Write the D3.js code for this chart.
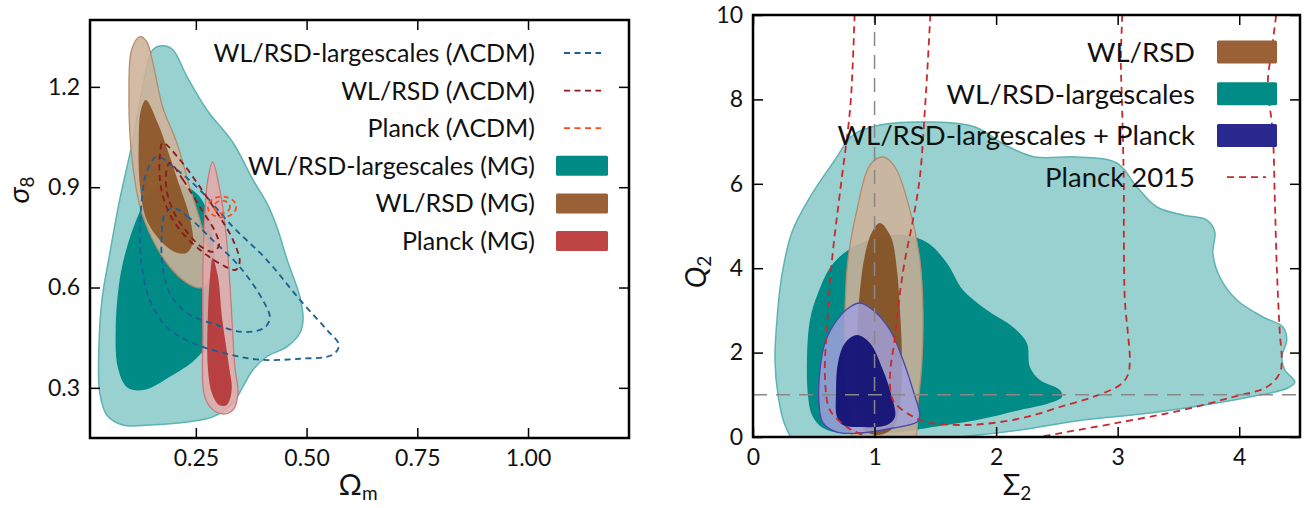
<!DOCTYPE html>
<html><head><meta charset="utf-8">
<script src="https://cdn.jsdelivr.net/npm/d3@7"></script>
<style>
body{margin:0;background:#fff}
svg{display:block}
text{font-family:Lato,"DejaVu Sans",sans-serif;fill:#111}
</style></head>
<body><svg id="c" width="1311" height="508"></svg>
<script>
// ---------------- DATA ----------------
// Left panel (Omega_m, sigma_8) contours
const leftTealOuter=[[0.153,1.311],[0.175,1.323],[0.198,1.311],[0.230,1.230],[0.275,1.131],[0.334,1.033],[0.379,0.922],[0.410,0.853],[0.433,0.781],[0.456,0.683],[0.485,0.572],[0.492,0.503],[0.485,0.464],[0.456,0.423],[0.410,0.393],[0.379,0.354],[0.356,0.303],[0.334,0.255],[0.288,0.213],[0.230,0.198],[0.146,0.189],[0.085,0.189],[0.049,0.219],[0.033,0.285],[0.031,0.414],[0.038,0.563],[0.056,0.704],[0.078,0.862],[0.108,1.042],[0.130,1.200]];
const leftTealInner=[[0.123,0.826],[0.146,0.886],[0.191,0.913],[0.248,0.886],[0.277,0.826],[0.291,0.713],[0.293,0.563],[0.282,0.443],[0.248,0.384],[0.191,0.333],[0.135,0.294],[0.096,0.300],[0.074,0.360],[0.069,0.473],[0.078,0.623],[0.096,0.728]];
const leftBrownOuter=[[0.124,1.350],[0.105,1.311],[0.099,1.161],[0.101,1.062],[0.108,0.961],[0.124,0.841],[0.153,0.742],[0.191,0.662],[0.230,0.614],[0.259,0.599],[0.277,0.614],[0.282,0.662],[0.275,0.722],[0.259,0.802],[0.236,0.901],[0.207,1.033],[0.175,1.140],[0.153,1.272],[0.139,1.335]];
const leftBrownInner=[[0.137,1.161],[0.164,1.092],[0.186,1.012],[0.214,0.901],[0.236,0.811],[0.243,0.733],[0.230,0.704],[0.207,0.704],[0.175,0.733],[0.139,0.802],[0.124,0.901],[0.121,1.042],[0.126,1.131]];
const leftPlanckOuter=[[0.288,0.976],[0.302,0.907],[0.318,0.763],[0.329,0.563],[0.338,0.363],[0.345,0.285],[0.334,0.234],[0.309,0.222],[0.282,0.243],[0.268,0.285],[0.266,0.464],[0.266,0.662],[0.270,0.811],[0.277,0.922]];
const leftPlanckInner=[[0.288,0.689],[0.300,0.632],[0.309,0.512],[0.325,0.363],[0.331,0.294],[0.320,0.249],[0.302,0.249],[0.286,0.285],[0.277,0.363],[0.277,0.512],[0.282,0.632]];
const lcdmLargeOuter=[[0.162,0.991],[0.207,0.952],[0.259,0.892],[0.334,0.781],[0.410,0.683],[0.485,0.563],[0.546,0.473],[0.573,0.428],[0.559,0.399],[0.485,0.387],[0.395,0.384],[0.320,0.402],[0.243,0.434],[0.184,0.482],[0.146,0.563],[0.128,0.662],[0.124,0.763],[0.128,0.862],[0.139,0.946]];
const lcdmLargeInner=[[0.198,0.838],[0.230,0.814],[0.288,0.742],[0.349,0.662],[0.401,0.563],[0.417,0.509],[0.404,0.479],[0.356,0.467],[0.297,0.488],[0.230,0.524],[0.191,0.584],[0.175,0.662],[0.173,0.763],[0.180,0.820]];
const lcdmWLOuter=[[0.175,1.033],[0.214,0.982],[0.259,0.901],[0.304,0.811],[0.334,0.742],[0.349,0.677],[0.340,0.653],[0.309,0.668],[0.259,0.713],[0.214,0.772],[0.182,0.847],[0.169,0.922],[0.169,0.997]];
const lcdmWLInner=[[0.191,0.973],[0.221,0.922],[0.259,0.841],[0.295,0.763],[0.302,0.725],[0.288,0.707],[0.259,0.725],[0.230,0.766],[0.200,0.826],[0.184,0.892],[0.184,0.952]];
const planckLcdmCenter=[0.309,0.841];
const planckLcdmRadii=[[0.032,0.031],[0.018,0.019]];

// Right panel (Sigma_2, Q_2) contours
const rightTealOuter=[[0.362,-0.12],[0.263,0.284],[0.206,0.995],[0.181,1.825],[0.197,2.773],[0.238,3.839],[0.321,4.858],[0.469,5.687],[0.674,6.564],[0.822,7.156],[1.044,7.393],[1.456,7.464],[1.826,7.346],[2.072,6.919],[2.319,6.635],[2.664,6.635],[2.993,6.493],[3.158,5.924],[3.322,5.450],[3.536,5.261],[3.734,5.142],[3.799,4.858],[3.783,4.360],[3.840,3.791],[3.980,3.246],[4.194,2.844],[4.359,2.607],[4.391,2.299],[4.350,1.896],[4.375,1.588],[4.457,1.303],[4.400,1.161],[4.087,0.948],[3.816,0.806],[3.265,0.569],[2.714,0.403],[2.196,0.166],[1.702,0.0],[1.209,-0.118]];
const rightTealInner=[[0.452,0.995],[0.444,1.825],[0.469,2.773],[0.535,3.412],[0.650,4.076],[0.822,4.502],[1.044,4.739],[1.250,4.787],[1.439,4.597],[1.595,4.123],[1.727,3.483],[1.924,3.009],[2.138,2.607],[2.253,2.227],[2.278,1.659],[2.360,1.351],[2.525,1.114],[2.541,0.948],[2.442,0.806],[2.196,0.640],[1.842,0.403],[1.480,0.237],[1.209,0.118],[0.798,0.071],[0.576,0.213],[0.485,0.521]];
const rightBrownOuter=[[1.069,6.635],[0.962,6.445],[0.855,5.379],[0.781,4.194],[0.757,3.009],[0.757,1.422],[0.798,0.474],[0.839,-0.118],[1.308,-0.118],[1.357,0.806],[1.390,1.825],[1.398,3.009],[1.373,4.194],[1.291,5.379],[1.168,6.398]];
const rightBrownInner=[[1.044,5.071],[1.135,4.739],[1.184,3.957],[1.209,3.009],[1.225,1.825],[1.209,0.758],[1.151,0.213],[1.028,0.047],[0.896,0.213],[0.855,0.877],[0.855,2.299],[0.880,3.483],[0.921,4.313],[0.979,4.858]];
const rightBlueOuter=[[0.880,3.175],[0.987,3.009],[1.127,2.536],[1.234,1.825],[1.316,1.114],[1.373,0.498],[1.349,0.355],[1.151,0.213],[0.880,0.095],[0.691,0.118],[0.576,0.332],[0.543,0.806],[0.551,1.588],[0.592,2.227],[0.691,2.773],[0.798,3.081]];
const rightBlueInner=[[0.855,2.417],[0.962,2.227],[1.069,1.588],[1.143,0.948],[1.168,0.474],[1.102,0.284],[0.880,0.237],[0.740,0.284],[0.691,0.474],[0.683,1.043],[0.699,1.754],[0.757,2.227]];
const planck2015Inner=[[1.464,10.3],[1.439,8.934],[1.414,7.749],[1.373,6.161],[1.316,5.142],[1.250,4.194],[1.209,3.412],[1.168,2.370],[1.127,1.422],[1.151,0.877],[1.266,0.569],[1.431,0.355],[1.702,0.284],[1.974,0.332],[2.253,0.474],[2.525,0.711],[2.796,0.948],[3.018,1.232],[3.084,1.469],[3.100,1.825],[3.084,2.464],[3.059,3.246],[3.051,4.834],[3.051,5.924],[3.035,7.986],[3.026,8.934],[3.043,10.3]];
const planck2015Outer=[[0.839,10.3],[0.822,8.934],[0.798,7.749],[0.715,5.782],[0.650,4.194],[0.609,2.607],[0.592,1.422],[0.633,0.640],[0.773,0.237],[0.905,0.047],[1.127,-0.19],[1.620,-0.30],[2.030,-0.24],[2.360,0.0],[2.442,0.047],[2.993,0.332],[3.536,0.640],[3.947,0.948],[4.227,1.185],[4.334,1.517],[4.350,1.825],[4.334,2.464],[4.309,4.028],[4.293,5.616],[4.276,7.204],[4.235,8.389],[4.268,9.171],[4.317,10.3]];
const refSigma=[1];
const refQ=[1];

// Ticks
const leftXTicks=[0.25,0.50,0.75,1.00];
const leftXTickLabels=["0.25","0.50","0.75","1.00"];
const leftYTicks=[0.3,0.6,0.9,1.2];
const leftYTickLabels=["0.3","0.6","0.9","1.2"];
const rightXTicks=[0,1,2,3,4];
const rightYTicks=[0,2,4,6,8,10];

// Legends
const leftLegendLabels=["WL/RSD-largescales (ΛCDM)","WL/RSD (ΛCDM)","Planck (ΛCDM)","WL/RSD-largescales (MG)","WL/RSD (MG)","Planck (MG)"];
const leftLegendKinds=["line","line","line","box","box","box"];
const leftLegendColors=["#1b5f93","#8b1a1a","#ff4a1a","#008b87","#9a6137","#bf4545"];
const rightLegendLabels=["WL/RSD","WL/RSD-largescales","WL/RSD-largescales + Planck","Planck 2015"];
const rightLegendKinds=["box","box","box","line"];
const rightLegendColors=["#9a6137","#008b87","#29298f","#c62a2f"];

// ---------------- DRAW ----------------
const FONT='Lato,"DejaVu Sans",sans-serif';
const svg=d3.select("#c");
const xL=d3.scaleLinear().domain([0.011,1.228]).range([90,629]);
const yL=d3.scaleLinear().domain([0.15,1.40]).range([438,20]);
const xR=d3.scaleLinear().domain([0,4.5]).range([753,1300]);
const yR=d3.scaleLinear().domain([0,10]).range([437,15]);

const defs=svg.append("defs");
defs.append("clipPath").attr("id","clipL").append("rect")
  .attr("x",xL.range()[0]).attr("y",yL.range()[1]).attr("width",xL.range()[1]-xL.range()[0]).attr("height",yL.range()[0]-yL.range()[1]);
defs.append("clipPath").attr("id","clipR").append("rect")
  .attr("x",xR.range()[0]).attr("y",yR.range()[1]).attr("width",xR.range()[1]-xR.range()[0]).attr("height",yR.range()[0]-yR.range()[1]);

const closedLine=(x,y)=>d3.line().x(d=>x(d[0])).y(d=>y(d[1])).curve(d3.curveCatmullRomClosed.alpha(0.5));
const openLine=(x,y)=>d3.line().x(d=>x(d[0])).y(d=>y(d[1])).curve(d3.curveCatmullRom.alpha(0.5));

function fillPath(g,line,data,fill,op,stroke,sw){
  g.append("path").attr("d",line(data)).attr("fill",fill).attr("fill-opacity",op)
   .attr("stroke",stroke||"none").attr("stroke-width",sw||0);
}
function dashPath(g,line,data,color,dash,sw){
  g.append("path").attr("d",line(data)).attr("fill","none").attr("stroke",color)
   .attr("stroke-width",sw||1.8).attr("stroke-dasharray",dash);
}

// ---- Left panel ----
const gL=svg.append("g").attr("clip-path","url(#clipL)");
const cL=closedLine(xL,yL);
fillPath(gL,cL,leftTealOuter,"#99d1d0",1,"#5db3b2",1.5);
fillPath(gL,cL,leftTealInner,"#008b87",1);
fillPath(gL,cL,leftBrownOuter,"rgb(206,178,154)",0.88,"#b48c6c",1.3);
fillPath(gL,cL,leftBrownInner,"rgb(137,80,32)",0.88);
fillPath(gL,cL,leftPlanckOuter,"rgb(226,170,170)",0.88,"#c97a7a",1.3);
fillPath(gL,cL,leftPlanckInner,"rgb(180,52,52)",0.9);
dashPath(gL,cL,lcdmLargeOuter,"#1b5f93","6,4.5");
dashPath(gL,cL,lcdmLargeInner,"#1b5f93","6,4.5");
dashPath(gL,cL,lcdmWLOuter,"#8b1a1a","6,4.5");
dashPath(gL,cL,lcdmWLInner,"#8b1a1a","6,4.5");
planckLcdmRadii.forEach(r=>{
  gL.append("ellipse").attr("cx",xL(planckLcdmCenter[0])).attr("cy",yL(planckLcdmCenter[1]))
    .attr("rx",xL(planckLcdmCenter[0]+r[0])-xL(planckLcdmCenter[0]))
    .attr("ry",yL(planckLcdmCenter[1])-yL(planckLcdmCenter[1]+r[1]))
    .attr("fill","none").attr("stroke","#ff4a1a").attr("stroke-width",1.8).attr("stroke-dasharray","5,3.5");
});

// ---- Right panel ----
const gR=svg.append("g").attr("clip-path","url(#clipR)");
const cR=closedLine(xR,yR), oR=openLine(xR,yR);
fillPath(gR,cR,rightTealOuter,"#99d1d0",1,"#5db3b2",1.5);
fillPath(gR,cR,rightTealInner,"#008b87",1);
fillPath(gR,cR,rightBrownOuter,"rgb(206,178,154)",0.88,"#b48c6c",1.3);
fillPath(gR,cR,rightBrownInner,"rgb(130,78,32)",0.9);
fillPath(gR,cR,rightBlueOuter,"rgb(160,160,218)",0.85,"#4848a8",1.3);
fillPath(gR,cR,rightBlueInner,"rgb(12,10,112)",0.9);
dashPath(gR,oR,planck2015Inner,"#c62a2f","7,5");
dashPath(gR,oR,planck2015Outer,"#c62a2f","7,5");
gR.selectAll(".vref").data(refSigma).enter().append("line")
  .attr("x1",d=>xR(d)).attr("x2",d=>xR(d)).attr("y1",yR.range()[0]).attr("y2",yR.range()[1])
  .attr("stroke","#888").attr("stroke-width",1.5).attr("stroke-dasharray","14,9");
gR.selectAll(".href").data(refQ).enter().append("line")
  .attr("y1",d=>yR(d)).attr("y2",d=>yR(d)).attr("x1",xR.range()[0]).attr("x2",xR.range()[1])
  .attr("stroke","#888").attr("stroke-width",1.5).attr("stroke-dasharray","14,9");

// ---- Axes ----
function styleAxis(g,fs){
  g.select(".domain").remove();
  g.selectAll(".tick line").attr("stroke","#000").attr("stroke-width",1.5);
  g.selectAll(".tick text").attr("font-size",fs).attr("fill","#111").style("font-family",FONT);
}
function frameAxes(x,y,xt,xtl,yt,ytl){
  const x0=x.range()[0],x1=x.range()[1],y0=y.range()[0],y1=y.range()[1];
  const b=svg.append("g").attr("transform",`translate(0,${y0})`)
    .call(d3.axisBottom(x).tickValues(xt).tickFormat((d,i)=>xtl[i]).tickSize(-10).tickPadding(12));
  styleAxis(b,23);
  const t=svg.append("g").attr("transform",`translate(0,${y1})`)
    .call(d3.axisTop(x).tickValues(xt).tickFormat("").tickSize(-10));
  styleAxis(t,23);
  const l=svg.append("g").attr("transform",`translate(${x0},0)`)
    .call(d3.axisLeft(y).tickValues(yt).tickFormat((d,i)=>ytl[i]).tickSize(-10).tickPadding(10));
  styleAxis(l,23);
  const r=svg.append("g").attr("transform",`translate(${x1},0)`)
    .call(d3.axisRight(y).tickValues(yt).tickFormat("").tickSize(-10));
  styleAxis(r,23);
  svg.append("rect").attr("x",x0).attr("y",y1).attr("width",x1-x0).attr("height",y0-y1)
    .attr("fill","none").attr("stroke","#000").attr("stroke-width",2.5);
}
frameAxes(xL,yL,leftXTicks,leftXTickLabels,leftYTicks,leftYTickLabels);
frameAxes(xR,yR,rightXTicks,rightXTicks.map(String),rightYTicks,rightYTicks.map(String));

// ---- Axis labels ----
function label(x,y,rot,main,sub,italic){
  const t=svg.append("text").attr("transform",`translate(${x},${y}) rotate(${rot})`)
    .attr("text-anchor","middle").attr("font-size",29);
  t.append("tspan").text(main).attr("font-style",italic?"italic":"normal");
  t.append("tspan").text(sub).attr("font-size",19).attr("dy",5);
}
label(358,495,0,"Ω","m",false);
label(29,190,-90,"σ","8",true);
label(1017,495,0,"Σ","2",false);
label(706,272,-90,"Q","2",true);

// ---- Legends ----
function legend(labels,kinds,colors,xText,base0,step,fs,box,line){
  labels.forEach((lab,i)=>{
    const yb=base0+i*step, yc=yb-fs*0.36;
    svg.append("text").attr("x",xText).attr("y",yb).attr("text-anchor","end")
      .attr("font-size",fs).text(lab);
    if(kinds[i]==="box"){
      svg.append("rect").attr("x",box[0]).attr("y",yc-box[2]/2).attr("width",box[1]-box[0]).attr("height",box[2])
        .attr("fill",colors[i]).attr("rx",1.5);
    }else{
      svg.append("line").attr("x1",line[0]).attr("x2",line[1]).attr("y1",yc).attr("y2",yc)
        .attr("stroke",colors[i]).attr("stroke-width",1.8).attr("stroke-dasharray",line[2]);
    }
  });
}
legend(leftLegendLabels,leftLegendKinds,leftLegendColors,535,62,37.6,25,[556,608,20],[564,601,"6,4.5"]);
legend(rightLegendLabels,rightLegendKinds,rightLegendColors,1195,62,41.7,27.5,[1217,1277,23],[1227,1266,"7,5"]);
</script></body></html>
